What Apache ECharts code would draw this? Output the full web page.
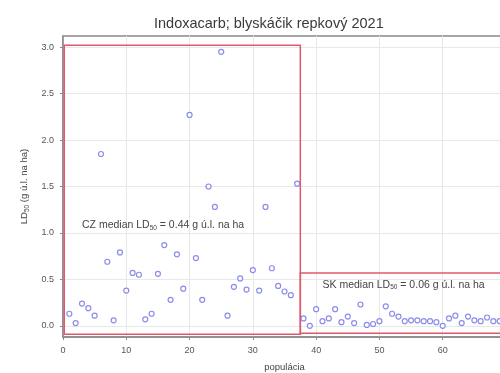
<!DOCTYPE html>
<html>
<head>
<meta charset="utf-8">
<script src="https://cdn.jsdelivr.net/npm/echarts@6/dist/echarts.min.js"></script>
<style>
  html, body { margin: 0; padding: 0; background: #fff; }
  #chart { width: 500px; height: 373px; }
</style>
</head>
<body>
<div id="chart"></div>
<script>
  // populácie 1..37 = CZ, 38..69 = SK
  var czValues = [0.13, 0.03, 0.24, 0.19, 0.11, 1.85, 0.69, 0.06, 0.79, 0.38,
    0.57, 0.55, 0.07, 0.13, 0.56, 0.87, 0.28, 0.77, 0.40, 2.27,
    0.73, 0.28, 1.50, 1.28, 2.95, 0.11, 0.42, 0.51, 0.39, 0.60,
    0.38, 1.28, 0.62, 0.43, 0.37, 0.33, 1.53]
  var skValues = [0.08, 0.00, 0.18, 0.05, 0.08, 0.18, 0.04, 0.10, 0.03, 0.23,
    0.01, 0.02, 0.05, 0.21, 0.13, 0.10, 0.05, 0.06, 0.06, 0.05,
    0.05, 0.04, 0.00, 0.08, 0.11, 0.03, 0.10, 0.06, 0.05, 0.09,
    0.05, 0.05]
  var yTicks = [0, 0.5, 1, 1.5, 2, 2.5, 3]
  // boxes: [x0, y0, x1, y1]
  var czBox = [0.2, -0.09, 37.5, 3.02]
  var skBox = [37.5, -0.08, 72, 0.57]
  var czMedian = '0.44'
  var skMedian = '0.06'

  var points = []
  czValues.forEach(function (v, i) { points.push([i + 1, v]) })
  skValues.forEach(function (v, i) { points.push([czValues.length + i + 1, v]) })

  var font = 'Liberation Sans'
  var rich = {
    t: { fontSize: 10.5, color: '#444', fontFamily: font },
    s: { fontSize: 6.5, color: '#444', fontFamily: font, padding: [5, 0, 0, 0] }
  }
  var richName = {
    t: { fontSize: 9.5, color: '#444', fontFamily: font },
    s: { fontSize: 6.5, color: '#444', fontFamily: font, padding: [5, 0, 0, 0] }
  }

  var chart = echarts.init(document.getElementById('chart'))
  chart.setOption({
    animation: false,
    textStyle: { fontFamily: font },
    title: {
      text: 'Indoxacarb; blyskáčik repkový 2021',
      left: 149,
      top: 11,
      textStyle: { fontSize: 14.5, fontWeight: 'normal', color: '#3a3a3a', fontFamily: font }
    },
    grid: {
      left: 63, top: 36, right: -6, bottom: 36,
      outerBoundsMode: 'none',
      containLabel: false,
      show: true, borderColor: '#8a8a8a', borderWidth: 1.5
    },
    xAxis: {
      type: 'value',
      min: 0, max: 70, interval: 10,
      name: 'populácia',
      nameLocation: 'middle',
      nameGap: 25,
      nameTextStyle: { fontSize: 9.5, color: '#444' },
      axisLine: { show: true, onZero: false, lineStyle: { color: '#8a8a8a', width: 1.5 } },
      axisTick: { show: true, length: 3, lineStyle: { color: '#8a8a8a' } },
      axisLabel: { fontSize: 9, color: '#555', margin: 9 },
      splitLine: { show: true, lineStyle: { color: '#e8e8e8' } }
    },
    yAxis: {
      type: 'value',
      min: -0.12, max: 3.12,
      name: '{t|LD}{s|50}{t| (g ú.l. na ha)}',
      nameLocation: 'middle',
      nameGap: 28,
      nameRotate: 90,
      nameTextStyle: { rich: richName },
      axisLine: { show: true, onZero: false, lineStyle: { color: '#8a8a8a', width: 1.5 } },
      axisTick: { show: true, length: 3, customValues: yTicks, lineStyle: { color: '#8a8a8a' } },
      axisLabel: {
        fontSize: 9, color: '#555', margin: 9, customValues: yTicks,
        formatter: function (v) { return v.toFixed(1) }
      },
      splitLine: { show: true, lineStyle: { color: '#e8e8e8' } }
    },
    series: [{
      type: 'scatter',
      data: points,
      symbol: 'circle',
      symbolSize: 5,
      itemStyle: { color: '#ffffff', borderColor: '#6f6fe6', borderWidth: 1.2 },
      markArea: {
        silent: true,
        itemStyle: { color: 'rgba(0,0,0,0)', borderColor: '#e0586a', borderWidth: 1.5 },
        data: [
          [{ coord: [czBox[0], czBox[1]] }, { coord: [czBox[2], czBox[3]] }],
          [{ coord: [skBox[0], skBox[1]] }, { coord: [skBox[2], skBox[3]] }]
        ]
      },
      markPoint: {
        silent: true,
        symbol: 'circle',
        symbolSize: 0,
        label: {
          show: true, position: 'right', distance: 0,
          rich: rich
        },
        data: [
          { coord: [3, 1.08], label: { formatter: '{t|CZ median LD}{s|50}{t| = ' + czMedian + ' g ú.l. na ha}' } },
          { coord: [41, 0.44], label: { formatter: '{t|SK median LD}{s|50}{t| = ' + skMedian + ' g ú.l. na ha}' } }
        ]
      }
    }]
  })
</script>
</body>
</html>
